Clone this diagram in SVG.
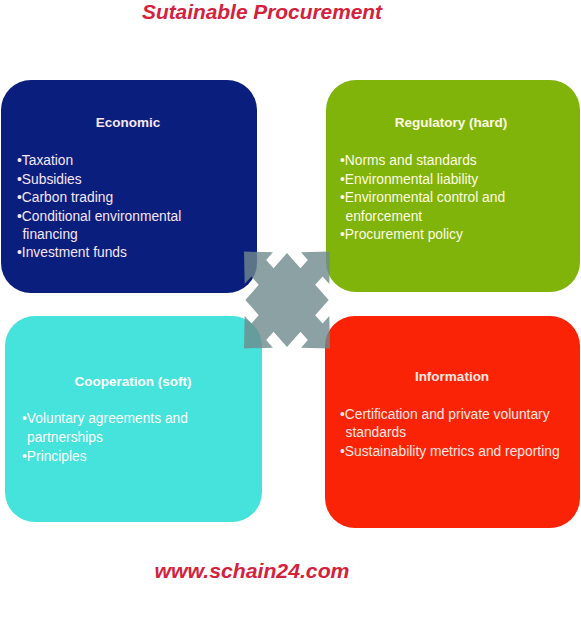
<svg xmlns="http://www.w3.org/2000/svg" width="581" height="643" viewBox="0 0 581 643">
<style>
.box{stroke:none}
.hd{font-family:"Liberation Sans",Arial,sans-serif;font-size:13.5px;font-weight:bold;text-anchor:middle}
.tx{font-family:"Liberation Sans",Arial,sans-serif;font-size:13.8px}
.brand{font-family:"Liberation Sans",Arial,sans-serif;font-weight:bold;font-style:italic;fill:#d4213d}
</style>
<rect width="581" height="643" fill="#ffffff"/>
<text class="brand" x="262" y="19" font-size="20" text-anchor="middle" textLength="240" lengthAdjust="spacingAndGlyphs">Sutainable Procurement</text>
<g id="economic">
<rect class="box" x="1" y="80" width="256" height="213" rx="30" fill="#0a1e7d"/>
<text class="hd" x="128" y="127" fill="#f6e6f4">Economic</text>
<text class="tx" fill="#f6e6f4"><tspan x="17" y="164.5">•Taxation</tspan><tspan x="17" y="183.5">•Subsidies</tspan><tspan x="17" y="202">•Carbon trading</tspan><tspan x="17" y="220.5">•Conditional environmental</tspan><tspan x="22.5" y="239">financing</tspan><tspan x="17" y="257">•Investment funds</tspan></text>
</g>
<g id="regulatory">
<rect class="box" x="326" y="80" width="254" height="212" rx="30" fill="#80b40a"/>
<text class="hd" x="451" y="127" fill="#fffbe2">Regulatory (hard)</text>
<text class="tx" fill="#fffbe2"><tspan x="340" y="164.5">•Norms and standards</tspan><tspan x="340" y="183.5">•Environmental liability</tspan><tspan x="340" y="202">•Environmental control and</tspan><tspan x="345.5" y="220.5">enforcement</tspan><tspan x="340" y="239">•Procurement policy</tspan></text>
</g>
<g id="cooperation">
<rect class="box" x="5" y="316" width="257" height="206" rx="30" fill="#45e3dc"/>
<text class="hd" x="133" y="386" fill="#ffffff">Cooperation (soft)</text>
<text class="tx" fill="#ffffff"><tspan x="22" y="423">•Voluntary agreements and</tspan><tspan x="27" y="442">partnerships</tspan><tspan x="22" y="460.5">•Principles</tspan></text>
</g>
<g id="information">
<rect class="box" x="325" y="316" width="255" height="212" rx="30" fill="#fb2306"/>
<text class="hd" x="452" y="381" fill="#ffe8e2">Information</text>
<text class="tx" fill="#ffe8e2"><tspan x="340" y="418.5">•Certification and private voluntary</tspan><tspan x="345.5" y="437">standards</tspan><tspan x="340" y="456">•Sustainability metrics and reporting</tspan></text>
</g>
<g id="connectors">
<path transform="translate(287 300) scale(0.95 1.07) rotate(45)" fill="#6f8a8c" fill-opacity="0.8" d="M31,-31 L31,-11 L42,-11 L42,-21 L64,0 L42,21 L42,11 L31,11 L31,31 L11,31 L11,42 L21,42 L0,64 L-21,42 L-11,42 L-11,31 L-31,31 L-31,11 L-42,11 L-42,21 L-64,0 L-42,-21 L-42,-11 L-31,-11 L-31,-31 L-11,-31 L-11,-42 L-21,-42 L0,-64 L21,-42 L11,-42 L11,-31 Z"/>
</g>
<text class="brand" x="252" y="578" font-size="20" text-anchor="middle" textLength="195" lengthAdjust="spacingAndGlyphs">www.schain24.com</text>
</svg>
